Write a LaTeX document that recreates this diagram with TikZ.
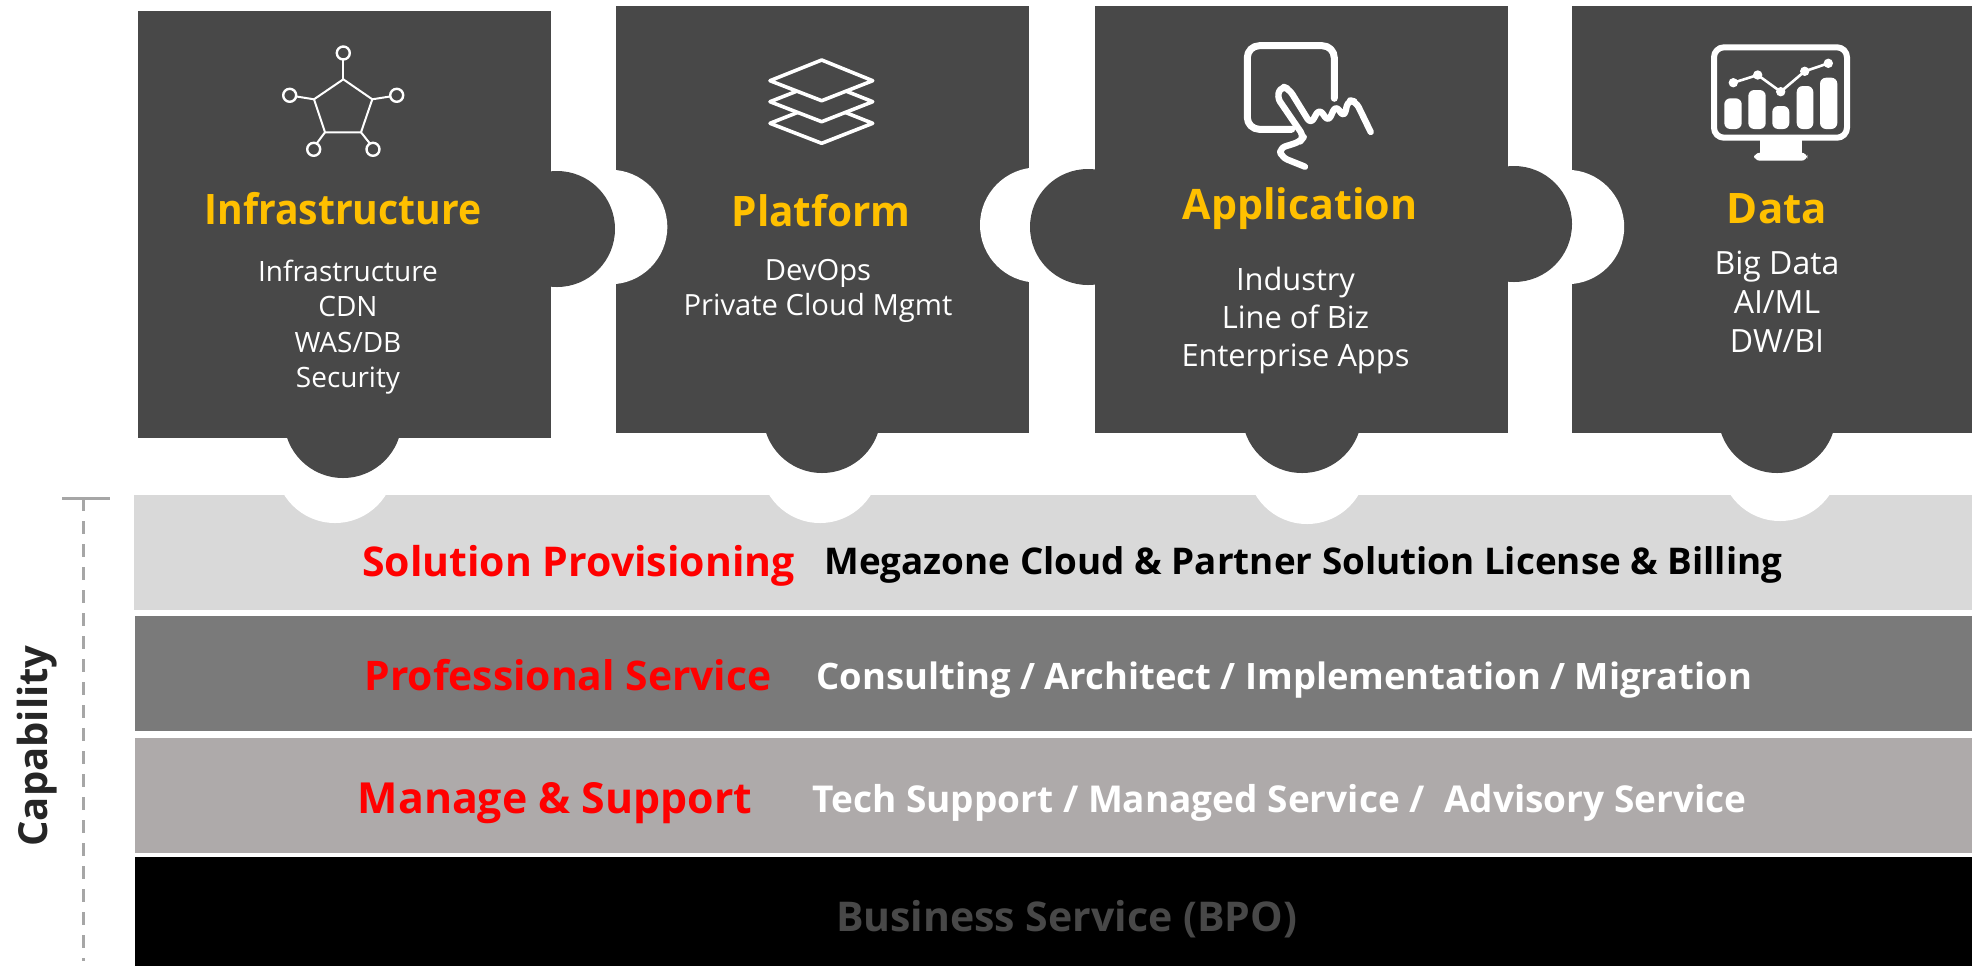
\documentclass[tikz,border=0pt]{standalone}
\usepackage{fontspec}
\setmainfont{Open Sans}
\usepackage{tikz}
\definecolor{tile_gray}{RGB}{72, 72, 72}
\definecolor{title_gold}{RGB}{255, 192, 0}
\definecolor{band_light}{RGB}{217, 217, 217}
\definecolor{band_mid}{RGB}{122, 122, 122}
\definecolor{band_warm}{RGB}{174, 170, 170}
\definecolor{band_text}{RGB}{72, 72, 72}
\definecolor{axis_gray}{RGB}{166, 166, 166}
\definecolor{axis_text}{RGB}{38, 38, 38}
\tikzstyle{tile}=[fill=tile_gray, draw=none]
\tikzstyle{notch}=[fill=white, draw=none]
\tikzstyle{icon}=[draw=white, line width=1pt, line join=round, line cap=round]
\tikzstyle{title}=[color=title_gold, font=\fontsize{21}{25}\selectfont\bfseries, inner sep=0pt]
\tikzstyle{items}=[color=white, align=center, inner sep=0pt]
\tikzstyle{layer}=[color=red, inner sep=0pt, text height=15pt, text depth=4pt]
\tikzstyle{detail}=[inner sep=0pt, text height=13pt, text depth=4pt]
\begin{document}
\begin{tikzpicture}[x=0.5pt, y=-0.5pt]
    \useasboundingbox (0, 0) rectangle (1972, 966);
    \fill[band_light] (134, 495) rectangle (1972, 610);
    \fill[band_mid]   (135, 616) rectangle (1972, 731);
    \fill[band_warm]  (135, 738) rectangle (1972, 853);
    \fill[black]      (135, 857) rectangle (1972, 966);
    \fill[notch] (335, 463) circle (60);
    \fill[notch] (820, 463) circle (60);
    \fill[notch] (1307, 464) circle (60);
    \fill[notch] (1780, 461) circle (60);
    \fill[tile] (138, 11) rectangle (551, 438);
    \fill[tile] (616, 6) rectangle (1029, 433);
    \fill[tile] (1095, 6) rectangle (1508, 433);
    \fill[tile] (1572, 6) rectangle (1972, 433);
    \fill[notch] (610, 227) circle (57.3);
    \fill[notch] (1037.6, 225) circle (57.6);
    \fill[notch] (1567, 227) circle (57.2);
    \fill[tile] (557, 229) circle (58);
    \fill[tile] (1514, 224) circle (58);
    \fill[tile] (1088, 227) circle (58);
    \fill[tile] (343, 419) circle (59);
    \fill[tile] (822, 414) circle (59);
    \fill[tile] (1302, 413) circle (60);
    \fill[tile] (1777, 414) circle (59);

    \draw[icon] (343.3, 79.3) -- (372.3, 99.3) -- (361, 132.3) -- (325, 132.3) -- (314, 99.3) -- cycle;
    \draw[icon] (343.3, 79.3) -- (343.3, 60);
    \draw[icon] (372.3, 99.3) -- (390, 96.5);
    \draw[icon] (314, 99.3) -- (296.5, 96.5);
    \draw[icon] (361, 132.3) -- (369.5, 143);
    \draw[icon] (325, 132.3) -- (317, 143);
    \draw[icon, line width=1.2pt] (343.3, 53) circle (6.5);
    \draw[icon, line width=1.2pt] (396.7, 95.3) circle (6.5);
    \draw[icon, line width=1.2pt] (289.7, 95.3) circle (6.5);
    \draw[icon, line width=1.2pt] (313.7, 149.3) circle (6.5);
    \draw[icon, line width=1.2pt] (373, 149.3) circle (6.5);

    \draw[icon, fill=tile_gray, line width=1.8pt] (821.7, 103) -- (872.7, 123.3) -- (821.7, 143.3) -- (770, 123.3) -- cycle;
    \draw[icon, fill=tile_gray, line width=1.8pt] (821.7, 81.4) -- (872.7, 101.7) -- (821.7, 121.7) -- (770, 101.7) -- cycle;
    \draw[icon, fill=tile_gray, line width=1.8pt] (821.7, 60) -- (872.7, 80.7) -- (821.7, 100.7) -- (770, 80.7) -- cycle;

    \draw[icon, line width=3.5pt, rounded corners=6pt] (1334.3, 98.3) -- (1334.3, 45.7) -- (1247.3, 45.7) -- (1247.3, 129.3) -- (1291.7, 129.3);
    \draw[icon, line width=3.2pt, rounded corners=3pt] (1305, 166.7) -- (1281.7, 157.3) -- (1279.3, 148.3) -- (1300, 141.7) -- (1304, 136.7) -- (1276.7, 96.7) -- (1281.7, 86) -- (1289.3, 89.3) -- (1310.7, 124) -- (1319.3, 108.7) -- (1328.3, 121.7) -- (1335.7, 105.3) -- (1344, 117.3) -- (1348.3, 100) -- (1356, 101.7) -- (1370.7, 132);

    \draw[icon, line width=3pt, rounded corners=5pt] (1714, 47.3) rectangle (1847, 137.7);
    \fill[white] (1760, 140) rectangle (1802.3, 153);
    \fill[white, rounded corners=3pt] (1754, 152.7) rectangle (1807.3, 160.7);
    \fill[white, rounded corners=3pt] (1724.3, 129) rectangle (1741.7, 98.3);
    \fill[white, rounded corners=3pt] (1748.3, 129) rectangle (1765.7, 90);
    \fill[white, rounded corners=3pt] (1772.3, 129) rectangle (1789.3, 106);
    \fill[white, rounded corners=3pt] (1796.7, 129) rectangle (1813.3, 86);
    \fill[white, rounded corners=3pt] (1820, 129) rectangle (1837.3, 77.7);
    \draw[icon, line width=1.3pt] (1733.3, 82.7) -- (1757.7, 75) -- (1780.7, 91.7) -- (1804.7, 71.3) -- (1828.3, 63.3);
    \fill[white] (1733.3, 82.7) circle (4.7);
    \fill[white] (1757.7, 75) circle (4.7);
    \fill[white] (1780.7, 91.7) circle (4.7);
    \fill[white] (1804.7, 71.3) circle (4.7);
    \fill[white] (1828.3, 63.3) circle (4.7);

    \node[title, xscale=0.93] (infra_title) at (343, 209) {Infrastructure};
    \node[title, xscale=0.965] (platform_title) at (821, 211) {Platform};
    \node[title, xscale=0.98] (app_title) at (1300, 209) {Application};
    \node[title] (data_title) at (1777, 209) {Data};
    \node[items, font=\fontsize{14}{17.7}\selectfont] (infra_items) at (348, 327) {Infrastructure\\CDN\\WAS/DB\\Security};
    \node[items, font=\fontsize{14.6}{17.7}\selectfont] (platform_items) at (818, 291) {DevOps\\Private Cloud Mgmt};
    \node[items, font=\fontsize{15.4}{19}\selectfont] (app_items) at (1295.5, 320) {Industry\\Line of Biz\\Enterprise Apps};
    \node[items, font=\fontsize{16}{19.5}\selectfont] (data_items) at (1777, 302) {Big Data\\AI/ML\\DW/BI};

    \node[layer, font=\fontsize{20.5}{25}\selectfont\bfseries] (solution) at (578.5, 565) {Solution Provisioning};
    \node[detail, font=\fontsize{18.4}{22}\selectfont\bfseries] (solution_text) at (1303.5, 565) {Megazone Cloud \& Partner Solution License \& Billing};
    \node[layer, font=\fontsize{20.4}{25}\selectfont\bfseries] (professional) at (568, 679) {Professional Service};
    \node[detail, color=white, font=\fontsize{18.2}{22}\selectfont\bfseries] (professional_text) at (1284.5, 680) {Consulting / Architect / Implementation / Migration};
    \node[layer, font=\fontsize{21.4}{25}\selectfont\bfseries] (manage) at (555, 802) {Manage \& Support};
    \node[detail, color=white, font=\fontsize{18.5}{22}\selectfont\bfseries] (manage_text) at (1279.5, 803) {Tech Support / Managed Service /\ \ Advisory Service};
    \node[detail, color=band_text, font=\fontsize{20.5}{25}\selectfont\bfseries] (business) at (1066.5, 922) {Business Service (BPO)};

    \coordinate (axis_left) at (62, 498);
    \coordinate (axis_right) at (110, 498);
    \coordinate (axis_top) at (83.5, 498);
    \coordinate (axis_bottom) at (83.5, 961);
    \draw[axis_gray, line width=1.5pt] (axis_left) -- (axis_right);
    \draw[axis_gray, line width=1.5pt, dash pattern=on 6.5pt off 5pt] (axis_top) -- (axis_bottom);
    \node[color=axis_text, rotate=90, font=\fontsize{20}{24}\selectfont\bfseries, inner sep=0pt] (capability) at (37, 746) {Capability};
\end{tikzpicture}
\end{document}
